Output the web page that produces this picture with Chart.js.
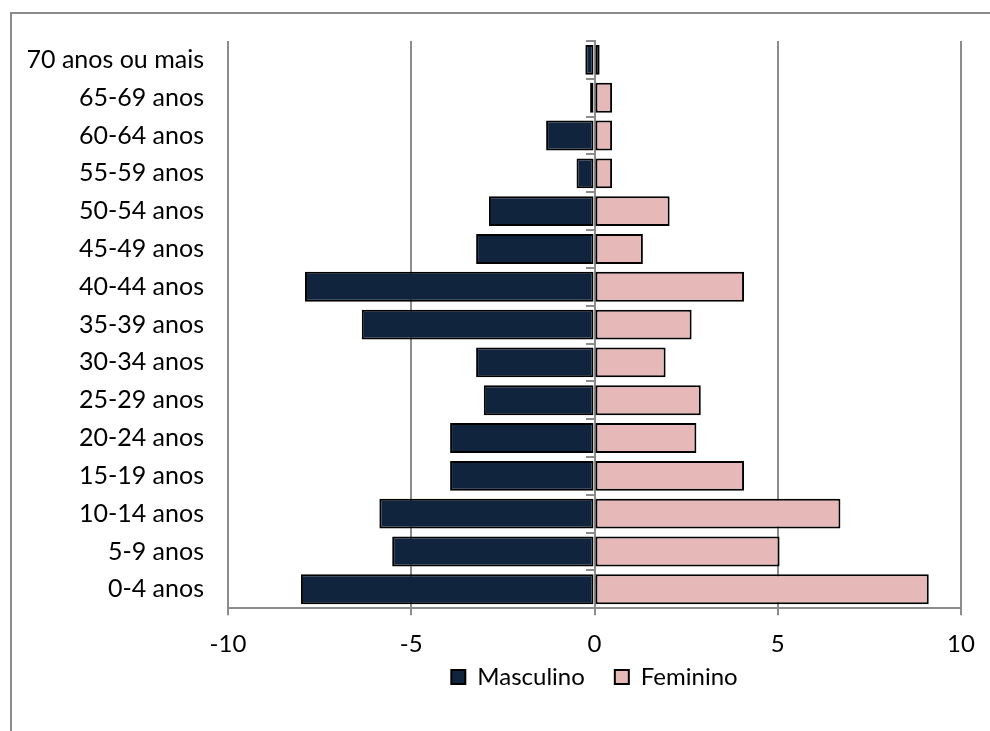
<!DOCTYPE html>
<html>
<head>
<meta charset="utf-8">
<script src="https://cdn.jsdelivr.net/npm/chart.js@4/dist/chart.umd.min.js"></script>
<style>
  html, body { margin: 0; padding: 0; background: #fff; overflow: hidden; }
  #frame { position: absolute; left: 10px; top: 12px; width: 1100px; height: 900px;
           border-left: 2px solid #8c8c8c; border-top: 2px solid #8c8c8c; }
  #c { position: absolute; left: 0; top: 0; }
</style>
</head>
<body>
<div id="frame"></div>
<canvas id="c" width="990" height="731"></canvas>
<script>
// Age groups, listed from the top row down
const categories = [
  '70 anos ou mais', '65-69 anos', '60-64 anos', '55-59 anos', '50-54 anos',
  '45-49 anos', '40-44 anos', '35-39 anos', '30-34 anos', '25-29 anos',
  '20-24 anos', '15-19 anos', '10-14 anos', '5-9 anos', '0-4 anos'
];
// Share of population (%), men drawn to the left as negatives
const masculino = [-0.25, -0.12, -1.32, -0.49, -2.88, -3.23, -7.9, -6.35, -3.23, -3.02, -3.94, -3.94, -5.87, -5.52, -8.01];
const feminino  = [0.14, 0.48, 0.48, 0.48, 2.05, 1.32, 4.08, 2.65, 1.94, 2.9, 2.78, 4.08, 6.71, 5.05, 9.12];
const xTicks = [-10, -5, 0, 5, 10];

const FONT = 'Lato, "Open Sans", sans-serif';
const GRID = '#8c8c8c';

// pull the legend row up closer to the tick labels, keeping its wide item spacing
const legendLift = {
  id: 'legendLift',
  afterLayout(chart) {
    const lg = chart.legend;
    if (lg) { lg.top -= 39; lg.bottom -= 39; }
  }
};

new Chart(document.getElementById('c'), {
  type: 'bar',
  data: {
    labels: categories,
    datasets: [
      { label: 'Masculino', data: masculino, backgroundColor: '#10243e',
        borderColor: '#000', borderWidth: 2, borderSkipped: false },
      { label: 'Feminino', data: feminino, backgroundColor: '#e6b9b8',
        borderColor: '#000', borderWidth: 2, borderSkipped: false }
    ]
  },
  plugins: [legendLift],
  options: {
    indexAxis: 'y',
    responsive: false,
    animation: false,
    devicePixelRatio: 1,
    datasets: { bar: { categoryPercentage: 1, barPercentage: 0.79 } },
    layout: { padding: { left: 28, top: 41, right: 29, bottom: -7 } },
    scales: {
      x: {
        stacked: true,
        min: xTicks[0], max: xTicks[xTicks.length - 1],
        afterBuildTicks: s => { s.ticks = xTicks.map(v => ({ value: v })); },
        grid: { color: GRID, lineWidth: 2, tickLength: 7 },
        border: { color: GRID, width: 2 },
        ticks: { color: '#000', font: { family: FONT, size: 24 }, padding: 15 }
      },
      y: {
        stacked: true,
        position: 'left',
        grid: { display: false },
        border: { display: false },
        afterFit: s => { s.width = 200; },
        ticks: { color: '#000', font: { family: FONT, size: 25 }, padding: 16 }
      },
      yZero: {
        type: 'category',
        labels: categories,
        position: { x: 0 },
        z: 1,
        grid: { drawOnChartArea: false, color: GRID, lineWidth: 2, tickLength: 8, offset: true },
        border: { color: GRID, width: 2 },
        ticks: { display: false }
      }
    },
    plugins: {
      legend: {
        position: 'bottom',
        fullSize: false,
        labels: { color: '#000', font: { family: FONT, size: 24, lineHeight: 1.0 },
                  boxWidth: 14, boxHeight: 14, padding: 30 }
      },
      tooltip: { enabled: false }
    }
  }
});
</script>
</body>
</html>
